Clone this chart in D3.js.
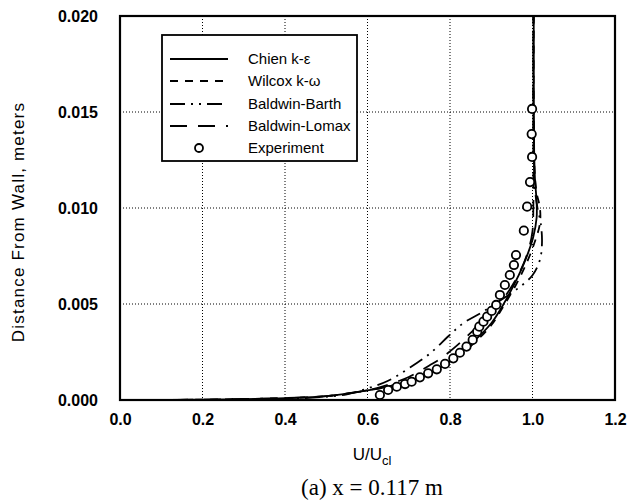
<!DOCTYPE html>
<html>
<head>
<meta charset="utf-8">
<script src="https://cdn.jsdelivr.net/npm/d3@7"></script>
<style>
  body { margin: 0; background: #fff; }
  text { font-family: "Liberation Sans", Arial, sans-serif; }
</style>
</head>
<body>
<svg></svg>
<script>
var margin = {top: 16, left: 120, bottom: 103, right: 15};
var width = 630 - margin.left - margin.right;
var height = 503 - margin.bottom - margin.top;

// tick values
var xTicks = [0.0, 0.2, 0.4, 0.6, 0.8, 1.0, 1.2];
var yTicks = [0.000, 0.005, 0.010, 0.015, 0.020];

// series (U/Ucl, distance from wall)
var chienU = [0, 0.2, 0.4, 0.5, 0.6, 0.65, 0.7, 0.75, 0.8, 0.85, 0.9, 0.93, 0.955, 0.975, 0.99, 1.002, 1.01, 1.01, 1.006, 1.004, 1.003, 1.003];
var chienY = [0, 0.00002, 0.0001, 0.0002, 0.0005, 0.0007, 0.001, 0.0014, 0.002, 0.0029, 0.004, 0.005, 0.006, 0.0069, 0.0077, 0.0085, 0.0095, 0.0103, 0.0115, 0.013, 0.016, 0.02];

var wilcoxU = [0, 0.2, 0.4, 0.5, 0.6, 0.65, 0.7, 0.75, 0.8, 0.85, 0.9, 0.93, 0.96, 0.985, 1.005, 1.018, 1.018, 1.01, 1.005, 1.003, 1.003];
var wilcoxY = [0, 0.00002, 0.0001, 0.0002, 0.0005, 0.0007, 0.001, 0.0014, 0.002, 0.0028, 0.0039, 0.0049, 0.006, 0.0071, 0.0082, 0.0092, 0.01, 0.0108, 0.012, 0.015, 0.02];

var barthU = [0, 0.3, 0.45, 0.55, 0.6, 0.65, 0.7, 0.75, 0.8, 0.832, 0.88, 0.93, 0.97, 1.0, 1.018, 1.023, 1.02, 1.012, 1.006, 1.003, 1.002];
var barthY = [0, 0.00002, 0.0001, 0.0003, 0.0006, 0.001, 0.00165, 0.0024, 0.0034, 0.004, 0.0046, 0.0053, 0.0059, 0.0065, 0.0073, 0.0082, 0.0092, 0.01, 0.011, 0.013, 0.02];

var lomaxU = [0, 0.2, 0.4, 0.5, 0.6, 0.65, 0.7, 0.75, 0.78, 0.82, 0.85, 0.9, 0.94, 0.97, 0.99, 1.0, 1.002, 1.002, 1.002];
var lomaxY = [0, 0.00002, 0.0001, 0.0002, 0.0005, 0.0008, 0.0012, 0.0018, 0.0022, 0.0029, 0.0035, 0.0045, 0.0056, 0.0067, 0.0078, 0.0088, 0.01, 0.012, 0.02];

var expU = [0.630, 0.650, 0.671, 0.691, 0.707, 0.727, 0.747, 0.768, 0.788, 0.808, 0.824, 0.840, 0.855, 0.866, 0.871, 0.881, 0.890, 0.901, 0.912, 0.921, 0.933, 0.945, 0.955, 0.960, 0.979, 0.987, 0.994, 0.999, 0.998, 0.999];
var expY = [0.00026, 0.00052, 0.00069, 0.00083, 0.00095, 0.00118, 0.00139, 0.0016, 0.00188, 0.00217, 0.00246, 0.00278, 0.00313, 0.00356, 0.00382, 0.00408, 0.00434, 0.00464, 0.00495, 0.00547, 0.00599, 0.00651, 0.00703, 0.00755, 0.00882, 0.01007, 0.01135, 0.01266, 0.01385, 0.01516];

var series = [
  {name: "Chien k-\u03b5", u: chienU, y: chienY, dash: null},
  {name: "Wilcox k-\u03c9", u: wilcoxU, y: wilcoxY, dash: "8,7"},
  {name: "Baldwin-Barth", u: barthU, y: barthY, dash: "15,6,2,6,2,6"},
  {name: "Baldwin-Lomax", u: lomaxU, y: lomaxY, dash: "17,11"}
];

// SVG setup

var root = d3.select("svg")
  .attr("width", 630)
  .attr("height", 503);

var svg = root.append("g")
  .attr("transform", "translate(" + margin.left + "," + margin.top + ")");

var x = d3.scaleLinear().domain([0, 1.2]).range([0, width]);
var y = d3.scaleLinear().domain([0, 0.02]).range([height, 0]);

// grid

svg.selectAll(".vgrid")
  .data(xTicks.slice(1, -1))
  .enter().append("line")
    .attr("x1", d => x(d)).attr("x2", d => x(d))
    .attr("y1", 0).attr("y2", height)
    .attr("stroke", "#000").attr("stroke-width", 1)
    .attr("stroke-dasharray", "1,2");

svg.selectAll(".hgrid")
  .data(yTicks.slice(1, -1))
  .enter().append("line")
    .attr("x1", 0).attr("x2", width)
    .attr("y1", d => y(d)).attr("y2", d => y(d))
    .attr("stroke", "#000").attr("stroke-width", 1)
    .attr("stroke-dasharray", "1,2");

// axes

var xAxis = svg.append("g")
  .attr("transform", "translate(0," + height + ")")
  .call(d3.axisBottom(x).tickValues(xTicks).tickFormat(d3.format(".1f")).tickSize(0).tickPadding(14));

var yAxis = svg.append("g")
  .call(d3.axisLeft(y).tickValues(yTicks).tickFormat(d3.format(".3f")).tickSize(0).tickPadding(22));

[xAxis, yAxis].forEach(function(a) {
  a.select(".domain").remove();
  a.selectAll("text")
    .attr("fill", "#000")
    .style("font-family", "'Liberation Sans', Arial, sans-serif")
    .style("font-size", "16px")
    .style("font-weight", "bold");
});

// curves

var line = d3.line()
  .x(d => x(d[0]))
  .y(d => y(d[1]))
  .curve(d3.curveCatmullRom);

series.forEach(function(s) {
  svg.append("path")
    .datum(s.u.map((u, i) => [u, s.y[i]]))
    .attr("d", line)
    .attr("fill", "none")
    .attr("stroke", "#000")
    .attr("stroke-width", 1.8)
    .attr("stroke-dasharray", s.dash);
});

svg.selectAll(".exp")
  .data(expU.map((u, i) => [u, expY[i]]))
  .enter().append("circle")
    .attr("cx", d => x(d[0]))
    .attr("cy", d => y(d[1]))
    .attr("r", 4.2)
    .attr("fill", "#fff")
    .attr("stroke", "#000")
    .attr("stroke-width", 1.8);

// frame

svg.append("rect")
  .attr("width", width).attr("height", height)
  .attr("fill", "none").attr("stroke", "#000").attr("stroke-width", 2.2);

// legend

var legend = svg.append("g").attr("transform", "translate(42,19)");
legend.append("rect")
  .attr("width", 195).attr("height", 126)
  .attr("fill", "#fff").attr("stroke", "#000").attr("stroke-width", 1.8);

var rowY = [24, 46, 69, 91, 113];

series.forEach(function(s, i) {
  legend.append("line")
    .attr("x1", 8).attr("x2", 66)
    .attr("y1", rowY[i]).attr("y2", rowY[i])
    .attr("stroke", "#000").attr("stroke-width", 1.8)
    .attr("stroke-dasharray", s.dash);
  legend.append("text")
    .attr("x", 86).attr("y", rowY[i]).attr("dy", "0.35em")
    .style("font-size", "15px")
    .text(s.name);
});

legend.append("circle")
  .attr("cx", 37).attr("cy", rowY[4]).attr("r", 4)
  .attr("fill", "#fff").attr("stroke", "#000").attr("stroke-width", 1.8);
legend.append("text")
  .attr("x", 86).attr("y", rowY[4]).attr("dy", "0.35em")
  .style("font-size", "15px")
  .text("Experiment");

// titles

root.append("text")
  .attr("transform", "translate(18," + (margin.top + height / 2 + 14) + ") rotate(-90)")
  .attr("text-anchor", "middle")
  .attr("dy", "0.35em")
  .style("font-size", "17px")
  .style("letter-spacing", "1.2px")
  .text("Distance From Wall, meters");

var xTitle = root.append("text")
  .attr("x", 372).attr("y", 460)
  .attr("text-anchor", "middle")
  .style("font-size", "17px");
xTitle.append("tspan").text("U/U");
xTitle.append("tspan").attr("dy", 5).style("font-size", "13px").text("cl");

root.append("text")
  .attr("x", 372).attr("y", 495)
  .attr("text-anchor", "middle")
  .style("font-family", "'Liberation Serif', 'Times New Roman', serif")
  .style("font-size", "23px")
  .text("(a) x = 0.117 m");
</script>
</body>
</html>
